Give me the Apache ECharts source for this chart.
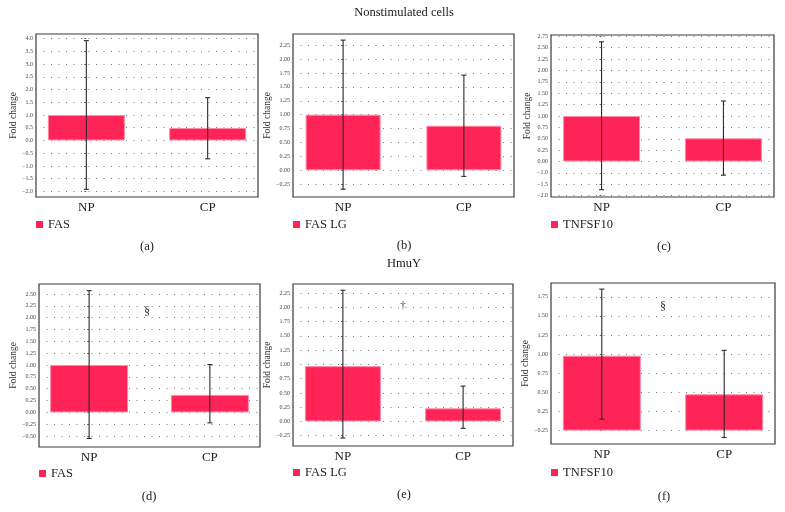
<!DOCTYPE html>
<html><head><meta charset="utf-8">
<script src="https://cdn.jsdelivr.net/npm/echarts@6/dist/echarts.min.js"></script>
<style>html,body{margin:0;padding:0;background:#fff}#c{width:785px;height:512px}</style>
</head><body><div id="c"></div>
<script>
// ---------- DATA ----------
const categories = ['NP', 'CP'];

const barsA = [1.00, 0.49];  const lowA = [-1.92, -0.72]; const highA = [3.92, 1.68];
const barsB = [1.00, 0.80];  const lowB = [-0.34, -0.11]; const highB = [2.34, 1.71];
const barsC = [1.00, 0.51];  const lowC = [-0.62, -0.30]; const highC = [2.63, 1.33];
const barsD = [1.00, 0.37];  const lowD = [-0.55, -0.22]; const highD = [2.57, 1.01];
const barsE = [0.97, 0.23];  const lowE = [-0.29, -0.12]; const highE = [2.30, 0.62];
const barsF = [0.98, 0.475]; const lowF = [0.15, -0.09];  const highF = [1.85, 1.05];

const ticksA = [-2.0, -1.5, -1.0, -0.5, 0.0, 0.5, 1.0, 1.5, 2.0, 2.5, 3.0, 3.5, 4.0];
const labelsA = ['−2.0','−1.5','−1.0','−0.5','0.0','0.5','1.0','1.5','2.0','2.5','3.0','3.5','4.0'];
const ticksB = [-0.25, 0, 0.25, 0.5, 0.75, 1.0, 1.25, 1.5, 1.75, 2.0, 2.25];
const labelsB = ['−0.25','0.00','0.25','0.50','0.75','1.00','1.25','1.50','1.75','2.00','2.25'];
const ticksC = [-0.75, -0.5, -0.25, 0, 0.25, 0.5, 0.75, 1.0, 1.25, 1.5, 1.75, 2.0, 2.25, 2.5, 2.75];
const labelsC = ['−2.0','−1.5','−1.0','0.00','0.25','0.50','0.75','1.00','1.25','1.50','1.75','2.00','2.25','2.50','2.75'];
const ticksD = [-0.5, -0.25, 0, 0.25, 0.5, 0.75, 1.0, 1.25, 1.5, 1.75, 2.0, 2.25, 2.5];
const labelsD = ['−0.50','−0.25','0.00','0.25','0.50','0.75','1.00','1.25','1.50','1.75','2.00','2.25','2.50'];
const ticksE = [-0.25, 0, 0.25, 0.5, 0.75, 1.0, 1.25, 1.5, 1.75, 2.0, 2.25];
const labelsE = ['−0.25','0.00','0.25','0.50','0.75','1.00','1.25','1.50','1.75','2.00','2.25'];
const ticksF = [0, 0.25, 0.5, 0.75, 1.0, 1.25, 1.5, 1.75];
const labelsF = ['−0.25','0.25','0.50','0.75','1.00','1.25','1.50','1.75'];

const geneNames = ['FAS', 'FAS LG', 'TNFSF10', 'FAS', 'FAS LG', 'TNFSF10'];
const panelTags = ['(a)', '(b)', '(c)', '(d)', '(e)', '(f)'];
const titleTop = 'Nonstimulated cells';
const titleBottom = 'HmuY';
const marksText = ['§', '†', '§'];

// ---------- LAYOUT ----------
const FONT = '"Liberation Serif", "DejaVu Serif", serif';
const BAR = '#ff2458';
const X_RANGE = [-0.415, 1.415];
const catIdx = categories.map((c, k) => k);
const panels = [
  {bars: barsA, low: lowA, high: highA, ticks: ticksA, labels: labelsA, range: [-2.22, 4.18], grid: {left: 36, top: 34, width: 222, height: 163}, barW: 77, nameGap: 17, tagPos: [147, 247], legendTop: 218},
  {bars: barsB, low: lowB, high: highB, ticks: ticksB, labels: labelsB, range: [-0.48, 2.45], grid: {left: 293, top: 34, width: 221, height: 163}, barW: 75, nameGap: 20, tagPos: [404, 246], legendTop: 218},
  {bars: barsC, low: lowC, high: highC, ticks: ticksC, labels: labelsC, range: [-0.78, 2.78], grid: {left: 551, top: 35, width: 223, height: 162}, barW: 77, nameGap: 19, tagPos: [664, 247], legendTop: 218},
  {bars: barsD, low: lowD, high: highD, ticks: ticksD, labels: labelsD, range: [-0.73, 2.71], grid: {left: 39, top: 284, width: 221, height: 163}, barW: 78, nameGap: 20, tagPos: [149, 497], legendTop: 467},
  {bars: barsE, low: lowE, high: highE, ticks: ticksE, labels: labelsE, range: [-0.43, 2.41], grid: {left: 293, top: 284, width: 220, height: 162}, barW: 76, nameGap: 19, tagPos: [404, 495], legendTop: 466},
  {bars: barsF, low: lowF, high: highF, ticks: ticksF, labels: labelsF, range: [-0.175, 1.93], grid: {left: 551, top: 283, width: 224, height: 161}, barW: 78, nameGap: 19, tagPos: [664, 497], legendTop: 466}
];

const grid = [], xAxis = [], yAxis = [], series = [], legend = [], graphic = [];

panels.forEach((p, i) => {
  grid.push(Object.assign({show: true, borderColor: '#3a3a3a', borderWidth: 1.2, backgroundColor: '#fff'}, p.grid));
  xAxis.push({
    type: 'value', gridIndex: i, min: X_RANGE[0], max: X_RANGE[1],
    axisLine: {show: false}, axisTick: {show: false}, splitLine: {show: false},
    axisLabel: {customValues: catIdx, fontFamily: FONT, fontSize: 13, color: '#222', margin: 4,
      formatter: v => categories[Math.round(v)] || ''}
  });
  yAxis.push({
    type: 'value', gridIndex: i, min: p.range[0], max: p.range[1],
    name: 'Fold change', nameLocation: 'middle', nameGap: p.nameGap,
    nameTextStyle: {fontFamily: FONT, fontSize: 9.5, color: '#333'},
    axisLine: {show: false},
    axisTick: {show: true, length: 2, customValues: p.ticks, lineStyle: {color: '#666'}},
    axisLabel: {
      customValues: p.ticks, fontFamily: FONT, fontSize: 6, color: '#444', margin: 3,
      formatter: v => { const k = p.ticks.findIndex(t => Math.abs(t - v) < 1e-6); return k >= 0 ? p.labels[k] : ''; }
    },
    splitLine: {show: true, lineStyle: {color: '#7a7a7a', type: [1, 6.5], width: 1}}
  });
  series.push({
    type: 'bar', name: geneNames[i], xAxisIndex: i, yAxisIndex: i,
    data: p.bars.map((v, k) => [catIdx[k], v]),
    barWidth: p.barW, silent: true,
    itemStyle: {color: BAR, borderColor: '#ff8aa4', borderWidth: 1}
  });
  series.push({
    type: 'custom', name: 'err' + i, xAxisIndex: i, yAxisIndex: i, silent: true, z: 5,
    data: p.low.map((l, k) => [catIdx[k], l, p.high[k]]),
    encode: {x: 0, y: [1, 2]},
    renderItem: (params, api) => {
      const lo = api.coord([api.value(0), api.value(1)]);
      const hi = api.coord([api.value(0), api.value(2)]);
      const c = 2.5;
      const st = {stroke: '#2a2a2a', lineWidth: 1.1};
      return {type: 'group', children: [
        {type: 'line', shape: {x1: lo[0], y1: lo[1], x2: hi[0], y2: hi[1]}, style: st},
        {type: 'line', shape: {x1: lo[0] - c, y1: lo[1], x2: lo[0] + c, y2: lo[1]}, style: st},
        {type: 'line', shape: {x1: hi[0] - c, y1: hi[1], x2: hi[0] + c, y2: hi[1]}, style: st}
      ]};
    }
  });
  legend.push({
    data: [geneNames[i]], left: p.grid.left, top: p.legendTop, icon: 'rect', padding: 0,
    itemWidth: 7, itemHeight: 7, itemGap: 5, selectedMode: false,
    itemStyle: {color: BAR, borderWidth: 0},
    textStyle: {fontFamily: FONT, fontSize: 12.5, color: '#222'}
  });
  graphic.push({type: 'text', x: p.tagPos[0], y: p.tagPos[1], style: {text: panelTags[i], font: '12.5px ' + FONT, fill: '#222', align: 'center', verticalAlign: 'middle'}});
});

graphic.push({type: 'text', x: 404, y: 13, style: {text: titleTop, font: '12.5px ' + FONT, fill: '#222', align: 'center', verticalAlign: 'middle'}});
graphic.push({type: 'text', x: 404, y: 264, style: {text: titleBottom, font: '12.5px ' + FONT, fill: '#222', align: 'center', verticalAlign: 'middle'}});
graphic.push({type: 'text', x: 147, y: 312, style: {text: marksText[0], font: '12px ' + FONT, fill: '#333', align: 'center', verticalAlign: 'middle'}});
graphic.push({type: 'text', x: 403, y: 305, style: {text: marksText[1], font: '11px ' + FONT, fill: '#333', align: 'center', verticalAlign: 'middle'}});
graphic.push({type: 'text', x: 663, y: 307, style: {text: marksText[2], font: '12px ' + FONT, fill: '#333', align: 'center', verticalAlign: 'middle'}});

const chart = echarts.init(document.getElementById('c'), null, {renderer: 'canvas'});
chart.setOption({animation: false, backgroundColor: '#fff', grid, xAxis, yAxis, series, legend, graphic});
</script></body></html>
